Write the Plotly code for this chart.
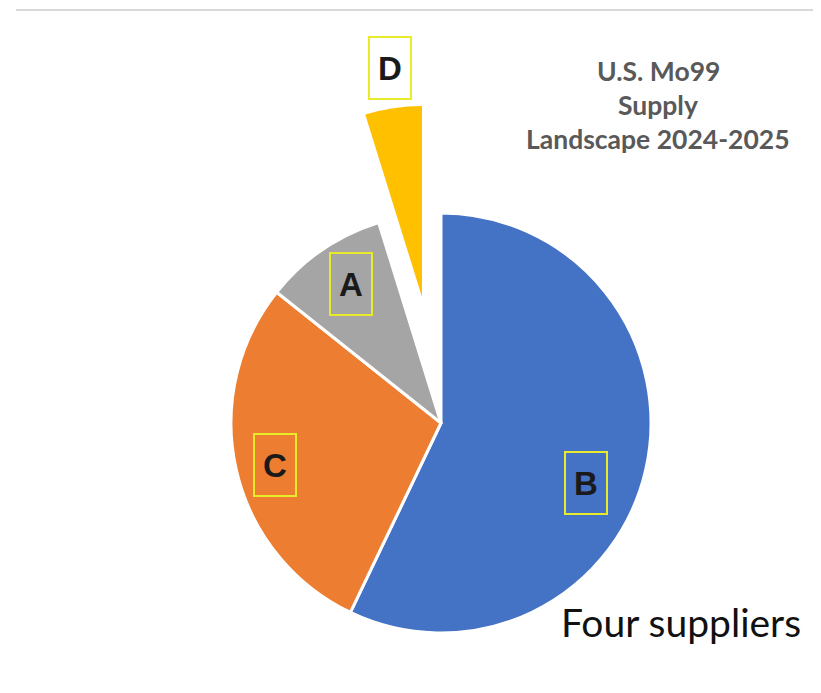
import plotly.graph_objects as go

# Data
suppliers = ["B", "C", "A", "D"]
shares = [57.1, 28.6, 9.5, 4.8]
colors = ["#4472C4", "#ED7D31", "#A5A5A5", "#FFC000"]
title_lines = ["U.S. Mo99", "Supply", "Landscape 2024-2025"]
note_text = "Four suppliers"

# page body has an 8px margin: figure is drawn 8px in from the window corner
OFF = 8
W, H = 821 - OFF, 693 - OFF

def px(x, y):
    return (x - OFF) / W, 1 - (y - OFF) / H

def px_domain(cx, cy, r):
    x0, y1 = px(cx - r, cy - r)
    x1, y0 = px(cx + r, cy + r)
    return dict(x=[max(0, x0), min(1, x1)], y=[max(0, y0), min(1, y1)])

transparent = "rgba(0,0,0,0)"
main_colors = colors[:3] + [transparent]
main_lines = ["white", "white", "white", transparent]
d_colors = [transparent] * 3 + [colors[3]]

fig = go.Figure()
fig.add_trace(go.Pie(
    labels=suppliers, values=shares, sort=False, direction="clockwise", rotation=0,
    marker=dict(colors=main_colors, line=dict(color=main_lines, width=3)),
    textinfo="none", hoverinfo="label+percent", showlegend=False,
    domain=px_domain(441, 423, 210),
))
fig.add_trace(go.Pie(
    labels=suppliers, values=shares, sort=False, direction="clockwise", rotation=0,
    marker=dict(colors=d_colors, line=dict(width=0)),
    textinfo="none", hoverinfo="skip", showlegend=False,
    domain=px_domain(422, 297, 191),
))

label_pos = {"B": (586, 483), "C": (275, 465), "A": (351, 284), "D": (390, 68)}
for s in suppliers:
    x, y = px(*label_pos[s])
    fig.add_annotation(
        x=x, y=y, xref="paper", yref="paper", text="<b>" + s + "</b>", showarrow=False,
        xanchor="center", yanchor="middle",
        font=dict(family="Liberation Sans", size=33, color="#1a1a1a"),
        bordercolor="#E8EA2A", borderwidth=2, borderpad=0, width=40, height=60,
    )

for i, line in enumerate(title_lines):
    x, y = px(658, 71 + 34 * i)
    fig.add_annotation(
        x=x, y=y, xref="paper", yref="paper",
        text="<b>" + line + "</b>", showarrow=False, xanchor="center", yanchor="middle",
        font=dict(family="Lato", size=26.5, color="#595959"),
    )

x, y = px(803, 622)
fig.add_annotation(
    x=x, y=y, xref="paper", yref="paper", text=note_text, showarrow=False,
    xanchor="right", yanchor="middle",
    font=dict(family="Lato", size=39, color="#111111"),
)

lx0, ly = px(16, 10)
fig.add_shape(type="line", xref="paper", yref="paper", x0=lx0, x1=1, y0=ly, y1=ly,
              line=dict(color="#D9D9D9", width=2))

fig.update_layout(
    width=W, height=H, margin=dict(l=0, r=0, t=0, b=0),
    paper_bgcolor="white", plot_bgcolor="white",
)
fig.write_html("out.html")
